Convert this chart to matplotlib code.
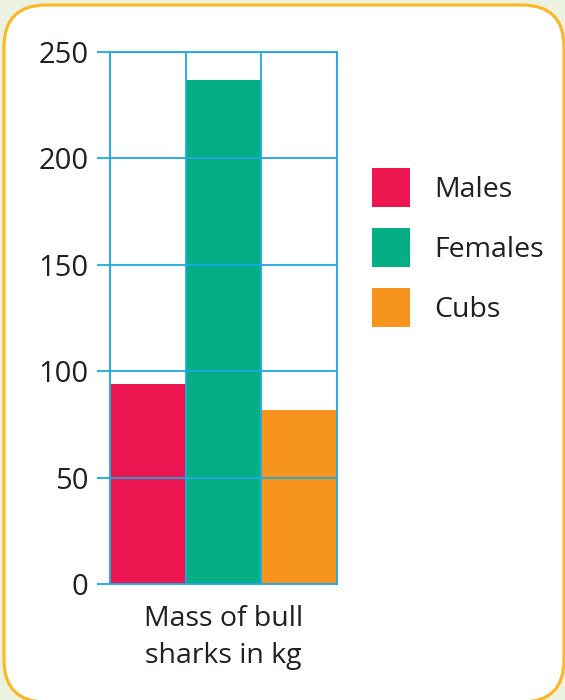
import matplotlib
matplotlib.use('Agg')
import matplotlib.pyplot as plt
from matplotlib.patches import FancyBboxPatch, Patch

# data
categories = ['Males', 'Females', 'Cubs']
masses = [94, 237, 82]
colors = ['#EE1651', '#05AF85', '#F7941E']
y_ticks = [0, 50, 100, 150, 200, 250]

line_blue = '#1FA8E1'
text_dark = '#231F20'

plt.rcParams['font.family'] = ['Open Sans', 'DejaVu Sans']

fig = plt.figure(figsize=(5.65, 7), dpi=100)
fig.patch.set_facecolor('#EBF2DF')

# rounded yellow frame (in inches so the corners stay round)
frame = FancyBboxPatch((0.04, -0.02), 5.6, 6.97,
                       boxstyle='round,pad=0,rounding_size=0.42',
                       transform=fig.dpi_scale_trans,
                       facecolor='white', edgecolor='#FBB829',
                       linewidth=2.3, zorder=-10)
fig.patches.append(frame)

ax = fig.add_axes([110 / 565, 116 / 700, 227 / 565, 532 / 700])
ax.set_facecolor('none')

for i, (cat, m, c) in enumerate(zip(categories, masses, colors)):
    ax.bar(i, m, width=1.0, color=c, label=cat, linewidth=0)

ax.set_xlim(-0.5, len(categories) - 0.5)
ax.set_ylim(0, 250)
ax.set_yticks(y_ticks)
ax.set_xticks([])
ax.set_xticks([i - 0.5 for i in range(len(categories) + 1)], minor=True)

ax.set_axisbelow(False)
ax.grid(axis='y', which='major', color=line_blue, linewidth=1.3)
ax.grid(axis='x', which='minor', color=line_blue, linewidth=1.3)
for s in ax.spines.values():
    s.set_color(line_blue)
    s.set_linewidth(1.3)

ax.tick_params(axis='y', direction='out', length=9.5, width=1.3,
               color=line_blue, labelcolor=text_dark, labelsize=21, pad=6)
ax.tick_params(axis='x', which='both', length=0)

ax.set_xlabel('Mass of bull\nsharks in kg', fontsize=20.5, color=text_dark,
              labelpad=12, linespacing=1.42)

handles = [Patch(facecolor=c, edgecolor='none') for c in colors]
fig.legend(handles, categories, loc='upper left',
           bbox_to_anchor=(372 / 565, 1 - 168 / 700),
           frameon=False, fontsize=20.5, labelcolor=text_dark,
           handlelength=1.33, handleheight=1.75, handletextpad=0.85,
           labelspacing=0.72, borderaxespad=0, borderpad=0)

fig.savefig('out.png', dpi=100, facecolor=fig.get_facecolor())
